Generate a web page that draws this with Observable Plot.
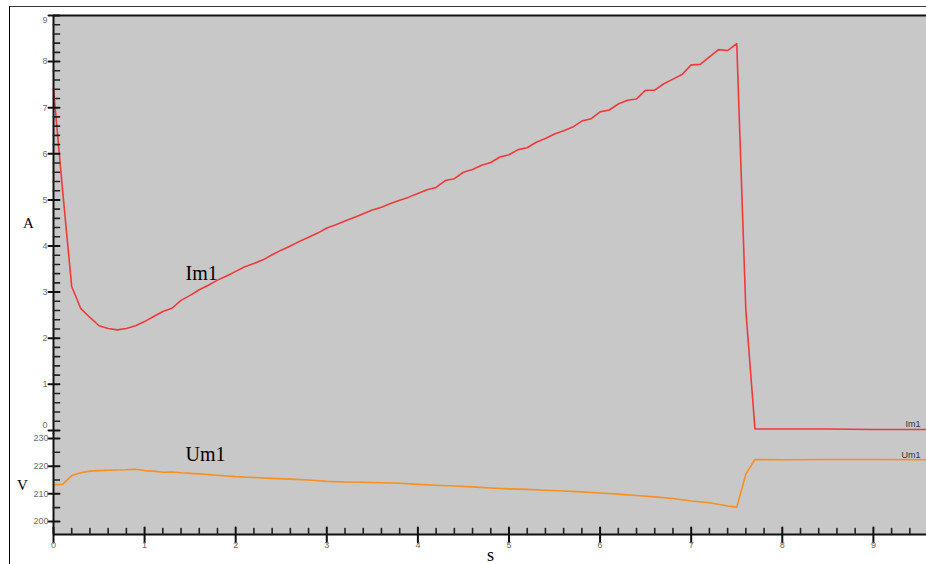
<!DOCTYPE html>
<html>
<head>
<meta charset="utf-8">
<script src="https://cdn.jsdelivr.net/npm/d3@7"></script>
<script src="https://cdn.jsdelivr.net/npm/@observablehq/plot@0.6"></script>
<style>
  html, body { margin: 0; padding: 0; background: #fff; }
  #wrap { position: relative; width: 926px; height: 564px; overflow: hidden; background: #fff; }
  #border { position: absolute; left: 9px; top: 6px; width: 930px; height: 570px;
            border-left: 1px solid #000; border-top: 1px solid #3a3a3a; }
  #top { position: absolute; left: 0; top: 0; }
  #bot { position: absolute; left: 0; top: 433px; }
  svg { overflow: visible; }
</style>
</head>
<body>
<div id="wrap"><div id="border"></div><div id="top"></div><div id="bot"></div></div>
<script>
// ---- data ----
const imTime = [0,0.1,0.2,0.3,0.4,0.5,0.6,0.7,0.8,0.9,1.0,1.1,1.2,1.3,1.4,1.5,1.6,1.7,1.8,1.9,
  2.0,2.1,2.2,2.3,2.4,2.5,2.6,2.7,2.8,2.9,3.0,3.1,3.2,3.3,3.4,3.5,3.6,3.7,3.8,3.9,
  4.0,4.1,4.2,4.3,4.4,4.5,4.6,4.7,4.8,4.9,5.0,5.1,5.2,5.3,5.4,5.5,5.6,5.7,5.8,5.9,
  6.0,6.1,6.2,6.3,6.4,6.5,6.6,6.7,6.8,6.9,7.0,7.1,7.2,7.3,7.4,7.5,7.6,7.7,8.0,8.5,9.0,9.6];
const im1 = [7.4,5.2,3.12,2.64,2.45,2.27,2.21,2.18,2.21,2.27,2.36,2.47,2.58,2.65,2.82,2.93,3.05,3.15,3.26,3.35,
  3.45,3.55,3.62,3.70,3.81,3.91,4.00,4.10,4.19,4.28,4.39,4.46,4.54,4.62,4.70,4.78,4.84,4.92,4.99,5.06,
  5.14,5.22,5.27,5.42,5.46,5.60,5.66,5.75,5.81,5.93,5.98,6.09,6.13,6.25,6.33,6.43,6.50,6.58,6.71,6.76,
  6.91,6.95,7.08,7.16,7.19,7.38,7.38,7.52,7.62,7.72,7.93,7.94,8.10,8.26,8.24,8.39,2.6,0.03,0.03,0.03,0.02,0.02];

const umTime = [0,0.1,0.2,0.3,0.4,0.5,0.6,0.7,0.8,0.9,1.0,1.1,1.2,1.3,1.4,1.5,1.6,1.8,2.0,2.2,2.4,2.6,2.8,
  3.0,3.2,3.4,3.6,3.8,4.0,4.2,4.4,4.6,4.8,5.0,5.2,5.4,5.6,5.8,6.0,6.2,6.4,6.6,6.8,7.0,7.2,7.4,7.5,7.6,7.7,8.0,8.5,9.0,9.6];
const um1 = [213.3,213.4,216.6,217.6,218.2,218.4,218.5,218.6,218.7,218.9,218.4,218.2,217.8,217.9,217.6,217.4,217.2,216.7,216.2,215.9,215.6,215.3,215.0,
  214.5,214.3,214.2,214.0,213.8,213.4,213.1,212.8,212.5,212.1,211.8,211.6,211.3,211.0,210.7,210.3,209.9,209.4,208.9,208.3,207.4,206.8,205.6,205.2,217.1,222.4,222.3,222.4,222.4,222.3];

const xTicks = [0,1,2,3,4,5,6,7,8,9];
const aTicks = [0,1,2,3,4,5,6,7,8,9];
const vTicks = [200,210,220,230];

const xDomain = [0, 9.583];
const aDomain = [-0.089, 9];
const vDomain = [195.3, 231.8];

const imData = imTime.map((t, i) => ({t, v: im1[i]}));
const umData = umTime.map((t, i) => ({t, v: um1[i]}));

const xMinor = d3.range(0, 9.5, 0.2).map(d => +d.toFixed(2)).filter(d => !xTicks.includes(d));
const aMinor = d3.range(0, 9, 0.2).map(d => +d.toFixed(2)).filter(d => !aTicks.includes(d));
const vMinor = [205, 215, 225];

const aMid = aTicks.filter(d => d !== 0 && d !== 9);
const aTop = aTicks.filter(d => d === 9);
const aBottom = aTicks.filter(d => d === 0);

// ---- styles ----
const gray = "#c8c8c8";
const labelColor = "#6b6b6b";
const sans = "Liberation Sans, Arial, sans-serif";
const serif = "Liberation Serif, Times New Roman, serif";

const hTick = (a, b) => ({draw(ctx) { ctx.moveTo(-a, 0); ctx.lineTo(b, 0); }});
const vTick = (up, down) => ({draw(ctx) { ctx.moveTo(0, -up); ctx.lineTo(0, down); }});

const aLabel = (data, dy) => Plot.text(data, {y: d => d, frameAnchor: "left", dx: -6, dy,
  text: d => String(d), textAnchor: "end", fill: labelColor, fontSize: 9, fontFamily: sans});

// ---- top panel (A) ----
const topPlot = Plot.plot({
  width: 926, height: 434,
  marginLeft: 53, marginRight: 0, marginTop: 15, marginBottom: 0,
  x: {domain: xDomain, axis: null},
  y: {domain: aDomain, axis: null},
  style: {background: "transparent", overflow: "visible"},
  marks: [
    Plot.frame({fill: gray, stroke: null}),
    Plot.line(imData, {x: "t", y: "v", stroke: "#f03a3a", strokeWidth: 1.6}),
    Plot.ruleY([aDomain[1]], {stroke: "#111", strokeWidth: 2}),
    Plot.ruleX([0], {stroke: "#111", strokeWidth: 2}),
    Plot.vector(aTicks, {y: d => d, frameAnchor: "left", length: 1, anchor: "start",
      shape: hTick(5, 6), stroke: "#111", strokeWidth: 2}),
    Plot.vector(aMinor, {y: d => d, frameAnchor: "left", length: 1, anchor: "start",
      shape: hTick(0, 6), stroke: "#222", strokeWidth: 1.6}),
    aLabel(aMid, 0),
    aLabel(aTop, 5),
    aLabel(aBottom, -5),
    Plot.text(["A"], {y: 4.4, frameAnchor: "left", dx: -25, textAnchor: "middle", lineAnchor: "bottom",
      fill: "#000", fontSize: 15, fontFamily: serif}),
    Plot.text(["Im1"], {x: 1.449, y: 3.27, textAnchor: "start", lineAnchor: "bottom",
      fill: "#000", fontSize: 20, fontFamily: serif}),
    Plot.text(["Im1"], {x: 9.517, y: 0.065, textAnchor: "end", lineAnchor: "bottom",
      fill: "#333", fontSize: 9, fontFamily: sans})
  ]
});
document.getElementById("top").appendChild(topPlot);

// ---- bottom panel (V) ----
const botPlot = Plot.plot({
  width: 926, height: 131,
  marginLeft: 53, marginRight: 0, marginTop: 0, marginBottom: 30,
  x: {domain: xDomain, axis: null},
  y: {domain: vDomain, axis: null},
  style: {background: "transparent", overflow: "visible"},
  marks: [
    Plot.frame({fill: gray, stroke: null}),
    Plot.line(umData, {x: "t", y: "v", stroke: "#f7901e", strokeWidth: 1.6}),
    Plot.ruleX([0], {stroke: "#111", strokeWidth: 2}),
    Plot.ruleY([vDomain[0]], {stroke: "#111", strokeWidth: 2}),
    Plot.vector(vTicks, {y: d => d, frameAnchor: "left", length: 1, anchor: "start",
      shape: hTick(5, 6), stroke: "#111", strokeWidth: 2}),
    Plot.vector(vMinor, {y: d => d, frameAnchor: "left", length: 1, anchor: "start",
      shape: hTick(0, 6), stroke: "#222", strokeWidth: 1.6}),
    Plot.text(vTicks, {y: d => d, frameAnchor: "left", dx: -5, text: d => String(d),
      textAnchor: "end", fill: labelColor, fontSize: 9, fontFamily: sans, letterSpacing: "-0.5px"}),
    Plot.vector(xTicks, {x: d => d, frameAnchor: "bottom", length: 1, anchor: "start",
      shape: vTick(7, 8), stroke: "#111", strokeWidth: 2}),
    Plot.vector(xMinor, {x: d => d, frameAnchor: "bottom", length: 1, anchor: "start",
      shape: vTick(6, 0), stroke: "#222", strokeWidth: 1.6}),
    Plot.text(xTicks, {x: d => d, frameAnchor: "bottom", dy: 13, text: d => String(d),
      textAnchor: "middle", fill: labelColor, fontSize: 9, fontFamily: sans}),
    Plot.text(["V"], {y: 211.56, frameAnchor: "left", dx: -31, textAnchor: "middle", lineAnchor: "bottom",
      fill: "#000", fontSize: 15, fontFamily: serif}),
    Plot.text(["s"], {x: 4.797, frameAnchor: "bottom", dy: 26, textAnchor: "middle", lineAnchor: "bottom",
      fill: "#000", fontSize: 18, fontFamily: serif}),
    Plot.text(["Um1"], {x: 1.449, y: 222.04, textAnchor: "start", lineAnchor: "bottom",
      fill: "#000", fontSize: 20, fontFamily: serif}),
    Plot.text(["Um1"], {x: 9.517, y: 223.1, textAnchor: "end", lineAnchor: "bottom",
      fill: "#333", fontSize: 9, fontFamily: sans})
  ]
});
document.getElementById("bot").appendChild(botPlot);
</script>
</body>
</html>
